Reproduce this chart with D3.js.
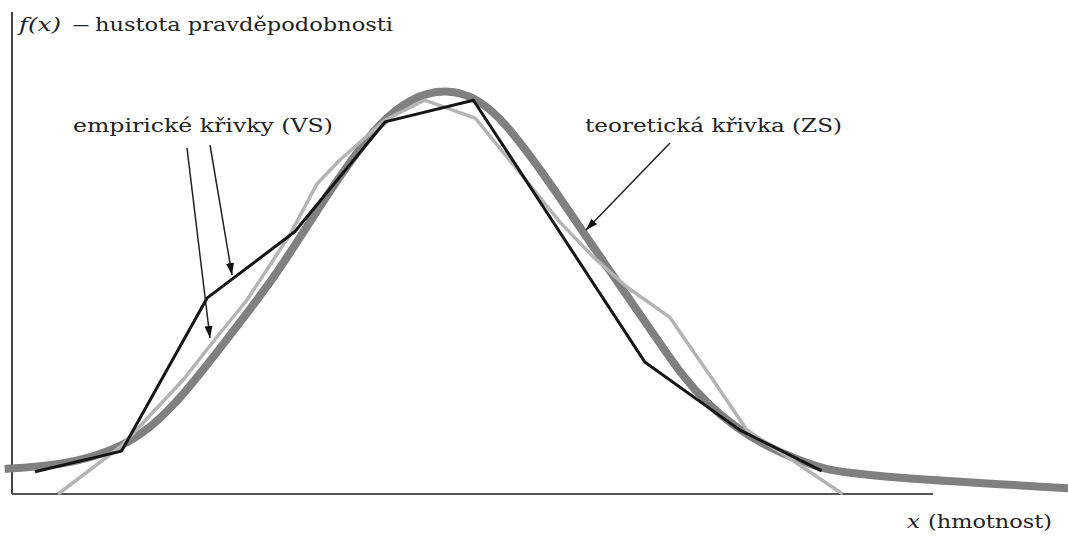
<!DOCTYPE html>
<html><head><meta charset="utf-8">
<script src="https://cdn.jsdelivr.net/npm/d3@7"></script>
<style>html,body{margin:0;padding:0;background:#fff;}svg{display:block;}</style>
</head><body>
<svg id="c" width="1068" height="536"></svg>
<script>
// Theoretical curve (ZS) – x (hmotnost, arbitrary units), f(x) (arbitrary units)
const theorX = [-0.8,2.5,7.4,11.9,15.0,17.7,20.4,23.1,25.8,28.6,31.3,34.0,36.7,39.7,43.2,47.2,50.8,53.7,56.6,59.3,62.0,64.7,67.4,70.1,72.7,75.5,78.5,81.8,85.0,88.1,90.7,96.4,102.9,114.7];
const theorY = [5.2,5.6,6.8,9.8,13.7,18.7,24.9,31.5,38.2,45.4,53.3,61.4,68.9,76.6,82.2,84.2,81.9,76.6,69.3,62.0,54.4,46.9,39.4,32.0,24.7,18.7,13.9,10.0,7.3,5.2,4.4,3.3,2.5,1.2];
// Empirical curve 1 (black)
const emp1X = [2.5,11.9,21.2,30.7,40.5,50.1,68.7,79.0,87.9];
const emp1Y = [4.6,8.9,40.7,54.4,77.2,81.7,27.4,13.3,4.8];
// Empirical curve 2 (light gray)
const emp2X = [5.0,11.9,18.6,22.0,25.5,30.2,33.1,35.6,40.5,44.8,50.3,59.5,63.1,66.8,71.4,76.1,79.8,90.2];
const emp2Y = [0,10.0,23.7,32.0,40.2,53.9,64.3,69.3,77.6,81.7,78.0,56.4,49.2,42.9,36.7,23.7,13.3,0];
// Annotation labels
const yLabelItalic = "f(x)";
const yLabelText = "hustota pravděpodobnosti";
const empLabel = "empirické křivky (VS)";
const theorLabel = "teoretická křivka (ZS)";
const xLabelItalic = "x";
const xLabelText = "(hmotnost)";

const svg = d3.select("#c");
const x = d3.scaleLinear().domain([0, 100]).range([12, 933]);
const y = d3.scaleLinear().domain([0, 100]).range([494, 12]);

const defs = svg.append("defs");
defs.append("marker").attr("id","ah").attr("viewBox","0 0 12 8").attr("refX",12).attr("refY",4)
  .attr("markerWidth",12).attr("markerHeight",8).attr("markerUnits","userSpaceOnUse").attr("orient","auto")
  .append("path").attr("d","M0,0 L12,4 L0,8 Z").attr("fill","#111");

// axes
svg.append("line").attr("x1",x(0)).attr("x2",x(0)).attr("y1",y(100)).attr("y2",y(0)).attr("stroke","#444").attr("stroke-width",2);
svg.append("line").attr("x1",x(0)).attr("x2",x(100)).attr("y1",y(0)).attr("y2",y(0)).attr("stroke","#555").attr("stroke-width",2);

const zip = (xs, ys) => xs.map((v,i)=>[v, ys[i]]);
const lineSmooth = d3.line().x(d=>x(d[0])).y(d=>y(d[1])).curve(d3.curveBasis);
const lineStraight = d3.line().x(d=>x(d[0])).y(d=>y(d[1]));

svg.append("path").attr("d", lineSmooth(zip(theorX, theorY))).attr("fill","none")
  .attr("stroke","#808080").attr("stroke-width",8).attr("stroke-linejoin","round");
svg.append("path").attr("d", lineStraight(zip(emp2X, emp2Y))).attr("fill","none")
  .attr("stroke","#b4b4b4").attr("stroke-width",3.5).attr("stroke-linejoin","round");
svg.append("path").attr("d", lineStraight(zip(emp1X, emp1Y))).attr("fill","none")
  .attr("stroke","#151515").attr("stroke-width",3).attr("stroke-linejoin","round");

// arrows
const arrows = [[187,148,210,338],[210,145,232,275],[670,143,586,230]];
svg.selectAll(".arr").data(arrows).enter().append("line")
  .attr("x1",d=>d[0]).attr("y1",d=>d[1]).attr("x2",d=>d[2]).attr("y2",d=>d[3])
  .attr("stroke","#222").attr("stroke-width",1.5).attr("marker-end","url(#ah)");

const font = "'DejaVu Serif', 'Liberation Serif', serif";
function txt(s, px, py, len, italic, size) {
  const t = svg.append("text").attr("x",px).attr("y",py).text(s)
    .attr("font-family",font).attr("font-size",size||18).attr("fill","#222");
  if (len) t.attr("textLength",len).attr("lengthAdjust","spacingAndGlyphs");
  if (italic) t.attr("font-style","italic");
  return t;
}
txt(yLabelItalic, 19, 31, 42, true);
txt("–", 72, 31, 18, false);
txt(yLabelText, 95, 31, 298, false);
txt(empLabel, 73, 132, 260, false);
txt(theorLabel, 585, 132, 257, false);
txt(xLabelItalic, 907, 528, 13, true);
txt(xLabelText, 928, 528, 124, false);
</script>
</body></html>
